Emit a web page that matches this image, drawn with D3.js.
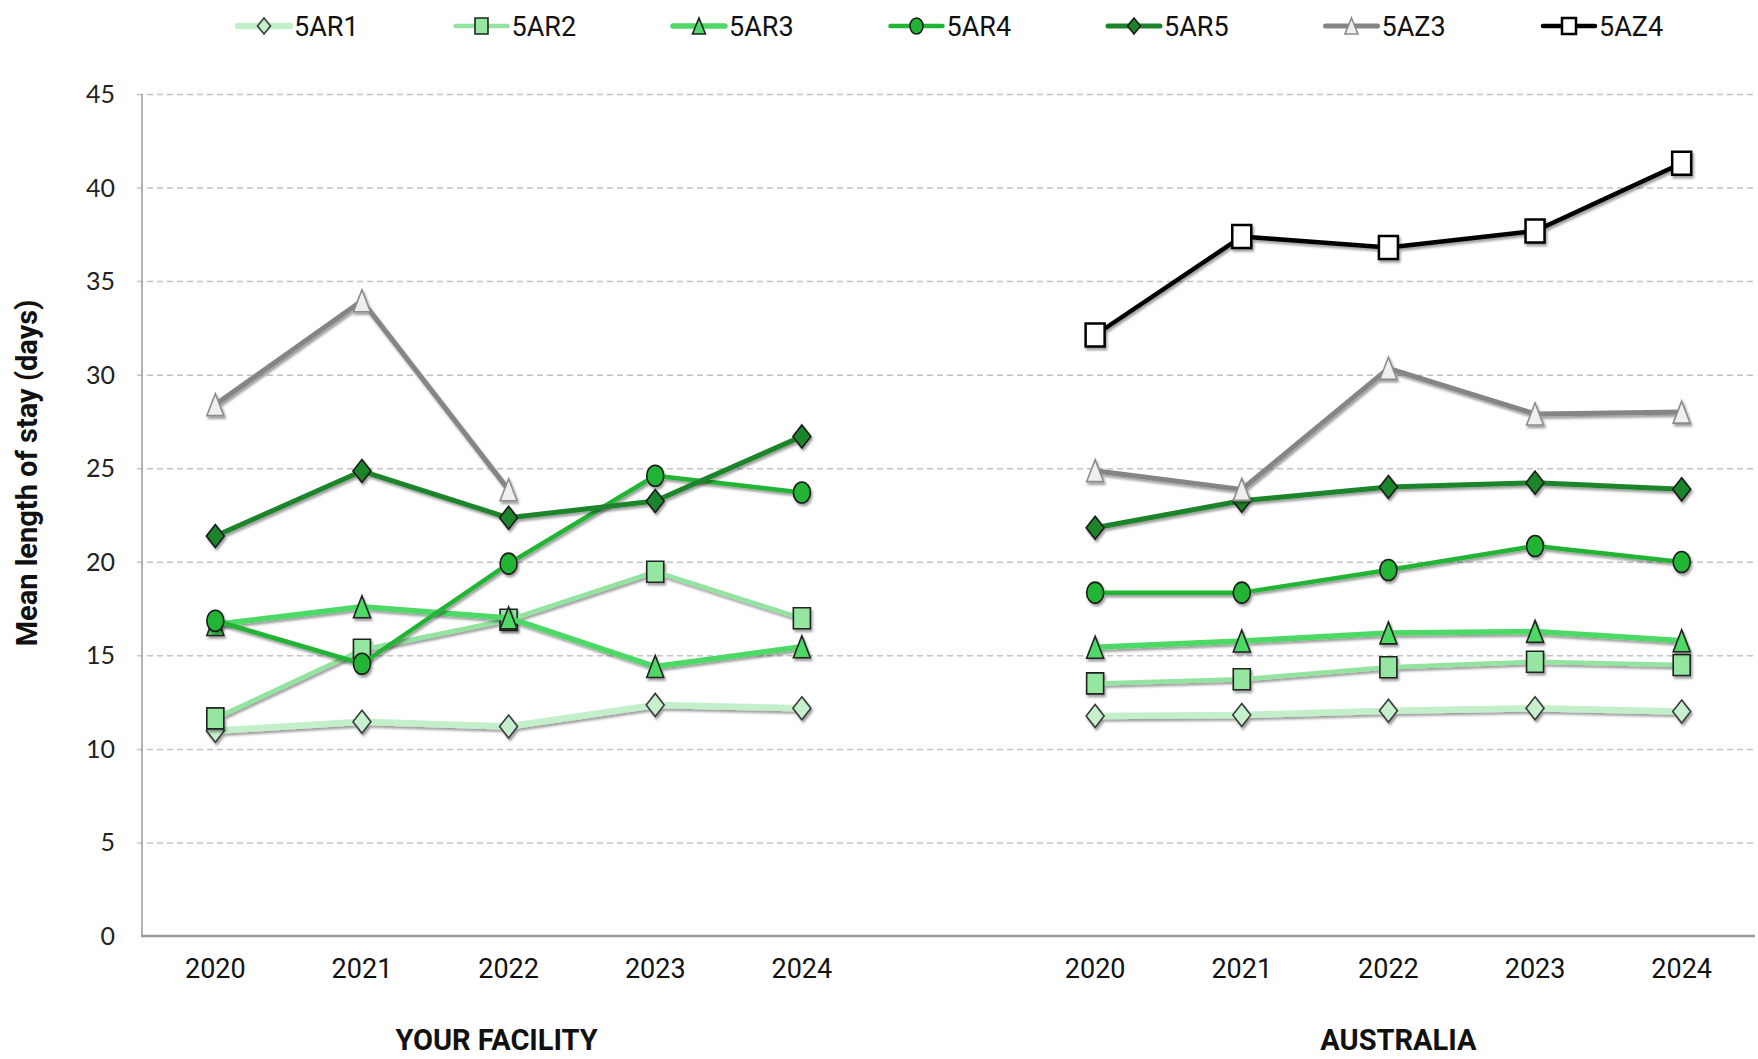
<!DOCTYPE html>
<html>
<head>
<meta charset="utf-8">
<script src="https://cdn.jsdelivr.net/npm/d3@7"></script>
<style>
  body { margin: 0; background: #ffffff; }
  svg { display: block; }
</style>
</head>
<body>
<svg id="chart" width="1758" height="1059"></svg>
<script>
// ---- data -------------------------------------------------------------
const years = ["2020", "2021", "2022", "2023", "2024"];
const regions = ["YOUR FACILITY", "AUSTRALIA"];
const seriesNames = ["5AR1", "5AR2", "5AR3", "5AR4", "5AR5", "5AZ3", "5AZ4"];
const yTicks = [0, 5, 10, 15, 20, 25, 30, 35, 40, 45];
const yTitle = "Mean length of stay (days)";

const facility5AR1 = [10.97, 11.45, 11.2, 12.35, 12.17];
const facility5AR2 = [11.63, 15.3, 16.9, 19.47, 16.98];
const facility5AR3 = [16.65, 17.6, 17.0, 14.4, 15.46];
const facility5AR4 = [16.85, 14.55, 19.9, 24.6, 23.7];
const facility5AR5 = [21.38, 24.85, 22.35, 23.25, 26.7];
const facility5AZ3 = [28.4, 33.95, 23.85, null, null];
const facility5AZ4 = [null, null, null, null, null];

const australia5AR1 = [11.76, 11.81, 12.04, 12.17, 12.0];
const australia5AR2 = [13.5, 13.72, 14.36, 14.66, 14.48];
const australia5AR3 = [15.43, 15.77, 16.2, 16.28, 15.78];
const australia5AR4 = [18.35, 18.35, 19.56, 20.84, 19.99];
const australia5AR5 = [21.82, 23.26, 24.0, 24.23, 23.87];
const australia5AZ3 = [24.87, 23.87, 30.34, 27.9, 28.0];
const australia5AZ4 = [32.12, 37.38, 36.8, 37.68, 41.3];

// ---- appearance of each series ---------------------------------------
const seriesStyle = {
  "5AR1": { line: "#c3f0ca", fill: "#c6efce", stroke: "#3a3a3a", width: 6.5, shape: "diamond" },
  "5AR2": { line: "#92e49e", fill: "#94e6a0", stroke: "#222222", width: 4.5, shape: "square" },
  "5AR3": { line: "#4ed966", fill: "#4ed966", stroke: "#222222", width: 5.5, shape: "triangle" },
  "5AR4": { line: "#22b434", fill: "#22b434", stroke: "#1a1a1a", width: 4.5, shape: "circle" },
  "5AR5": { line: "#1e8429", fill: "#1e8429", stroke: "#1a1a1a", width: 5, shape: "diamond" },
  "5AZ3": { line: "#858585", fill: "#efefef", stroke: "#8c8c8c", width: 5, shape: "triangle" },
  "5AZ4": { line: "#000000", fill: "#ffffff", stroke: "#000000", width: 4.5, shape: "square" }
};

const seriesData = {
  "5AR1": [facility5AR1, australia5AR1],
  "5AR2": [facility5AR2, australia5AR2],
  "5AR3": [facility5AR3, australia5AR3],
  "5AR4": [facility5AR4, australia5AR4],
  "5AR5": [facility5AR5, australia5AR5],
  "5AZ3": [facility5AZ3, australia5AZ3],
  "5AZ4": [facility5AZ4, australia5AZ4]
};

// ---- layout -------------------------------------------------------------
const plot = { left: 142, right: 1755, top: 94, bottom: 936 };

const svg = d3.select("#chart");

const defs = svg.append("defs");
const shadow = defs.append("filter").attr("id", "shade")
  .attr("x", "-20%").attr("y", "-20%").attr("width", "140%").attr("height", "140%");
shadow.append("feDropShadow")
  .attr("dx", 1.5).attr("dy", 2.5).attr("stdDeviation", 1.2)
  .attr("flood-color", "#000").attr("flood-opacity", 0.38);

// category slots: five years, an empty slot, five years
const slotKeys = [...years.map(y => "F" + y), "gap", ...years.map(y => "A" + y)];
const x = d3.scaleBand().domain(slotKeys).range([plot.left, plot.right]).padding(0);
const cx = key => x(key) + x.bandwidth() / 2;
const y = d3.scaleLinear().domain([0, 45]).range([plot.bottom, plot.top]);

// ---- grid + axes ----------------------------------------------------------
const yAxis = d3.axisLeft(y).tickValues(yTicks)
  .tickSize(-(plot.right - plot.left)).tickPadding(27).tickFormat(d3.format("d"));
const yg = svg.append("g").attr("transform", `translate(${plot.left},0)`).call(yAxis);
yg.select(".domain").remove();
yg.selectAll(".tick line")
  .attr("x1", -5)
  .attr("stroke", "#c4c4c4").attr("stroke-width", 1.5).attr("stroke-dasharray", "6,4");
yg.selectAll(".tick").filter(d => d === 0).select("line").remove();
yg.selectAll(".tick text")
  .attr("font-family", "Lato, 'Open Sans', sans-serif").attr("font-size", 25)
  .attr("fill", "#222").attr("dy", "0.34em");

const xAxis = d3.axisBottom(x).tickSize(0).tickPadding(23)
  .tickFormat(k => k === "gap" ? "" : k.slice(1));
const xg = svg.append("g").attr("transform", `translate(0,${plot.bottom})`).call(xAxis);
xg.select(".domain").remove();
xg.selectAll(".tick text")
  .attr("font-family", "Roboto, sans-serif").attr("font-size", 27)
  .attr("fill", "#111").attr("dy", "0.71em");

svg.append("line")
  .attr("x1", plot.left).attr("x2", plot.left)
  .attr("y1", plot.top).attr("y2", plot.bottom)
  .attr("stroke", "#9a9a9a").attr("stroke-width", 1.5);
svg.append("line")
  .attr("x1", plot.left - 1).attr("x2", plot.right)
  .attr("y1", plot.bottom).attr("y2", plot.bottom)
  .attr("stroke", "#9a9a9a").attr("stroke-width", 2.5);

// group captions under each block of years
regions.forEach((name, i) => {
  const keys = years.map(yr => (i === 0 ? "F" : "A") + yr);
  const mid = (cx(keys[0]) + cx(keys[keys.length - 1])) / 2;
  svg.append("text")
    .attr("x", mid + (i === 0 ? -12 : 10)).attr("y", 1050)
    .attr("text-anchor", "middle")
    .attr("font-family", "Roboto, sans-serif").attr("font-weight", 700)
    .attr("font-size", 29).attr("fill", "#111")
    .text(name);
});

// y-axis title
svg.append("text")
  .attr("transform", `translate(37,473) rotate(-90)`)
  .attr("text-anchor", "middle")
  .attr("font-family", "Roboto, sans-serif").attr("font-weight", 700)
  .attr("font-size", 29).attr("fill", "#111")
  .text(yTitle);

// ---- marker shapes ------------------------------------------------------
function markerPath(shape, w, h) {
  const a = w / 2, b = h / 2;
  switch (shape) {
    case "diamond": return `M0,${-b}L${a},0L0,${b}L${-a},0Z`;
    case "triangle": return `M0,${-b}L${a},${b}L${-a},${b}Z`;
    case "square": return `M${-a},${-b}H${a}V${b}H${-a}Z`;
    default: return `M${-a},0A${a},${b} 0 1,0 ${a},0A${a},${b} 0 1,0 ${-a},0Z`;
  }
}
const markerSize = {
  diamond: [18, 23], triangle: [17, 22], square: [17, 21], circle: [17, 21]
};

// ---- series -------------------------------------------------------------
const line = d3.line()
  .defined(d => d.v != null)
  .x(d => cx(d.key)).y(d => y(d.v));

seriesNames.forEach(name => {
  const st = seriesStyle[name];
  const g = svg.append("g").attr("class", "series").attr("filter", "url(#shade)");
  seriesData[name].forEach((vals, gi) => {
    const pts = vals.map((v, i) => ({ key: (gi === 0 ? "F" : "A") + years[i], v }));
    g.append("path").datum(pts)
      .attr("d", line)
      .attr("fill", "none").attr("stroke", st.line)
      .attr("stroke-width", st.width).attr("stroke-linejoin", "round");
    const [mw, mh] = name === "5AZ4" ? [19, 23] : markerSize[st.shape];
    g.selectAll(null).data(pts.filter(d => d.v != null)).enter()
      .append("path")
      .attr("transform", d => `translate(${cx(d.key)},${y(d.v)})`)
      .attr("d", markerPath(st.shape, mw, mh))
      .attr("fill", st.fill).attr("stroke", st.stroke)
      .attr("stroke-width", name === "5AZ4" ? 2.5 : 1.6)
      .attr("stroke-linejoin", "miter");
  });
});

// ---- legend -------------------------------------------------------------
const legendX0 = 238, legendStep = 217.5, legendY = 26, legendLine = 52;
const legend = svg.append("g");
seriesNames.forEach((name, i) => {
  const st = seriesStyle[name];
  const lg = legend.append("g").attr("transform", `translate(${legendX0 + i * legendStep},${legendY})`);
  lg.append("line").attr("x1", 0).attr("x2", legendLine)
    .attr("stroke", st.line).attr("stroke-width", st.width).attr("stroke-linecap", "round");
  const ms = name === "5AZ4" ? [14, 16] : [13, 16];
  lg.append("path")
    .attr("transform", `translate(${legendLine / 2},0)`)
    .attr("d", markerPath(st.shape, ms[0], ms[1]))
    .attr("fill", st.fill).attr("stroke", st.stroke)
    .attr("stroke-width", name === "5AZ4" ? 2.5 : 1.6);
  lg.append("text").attr("x", legendLine + 4).attr("y", 0).attr("dy", "0.36em")
    .attr("font-family", "Roboto, sans-serif").attr("font-size", 27).attr("fill", "#111")
    .text(name);
});
</script>
</body>
</html>
